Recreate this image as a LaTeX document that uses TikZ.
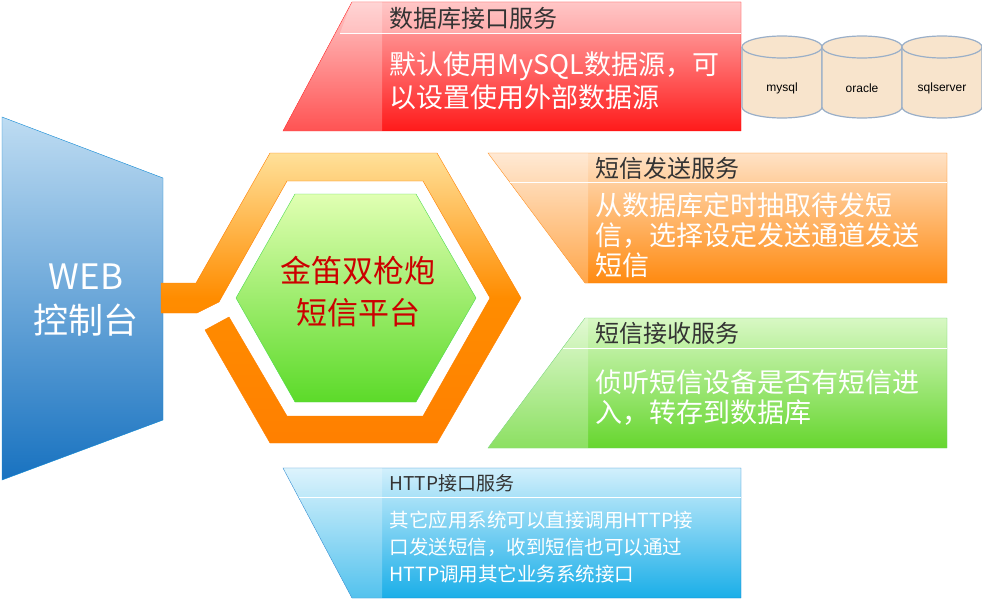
\documentclass[tikz,border=0pt]{standalone}
\usepackage{fontspec}
\setmainfont{Liberation Sans}
\newfontfamily\cjk{Noto Sans CJK SC}
\definecolor{redtop}{HTML}{FFB4B4}
\definecolor{redbot}{HTML}{FF1A1A}
\definecolor{orgtop}{HTML}{FFE2C6}
\definecolor{orgbot}{HTML}{FF8A10}
\definecolor{grntop}{HTML}{D8F8C4}
\definecolor{grnbot}{HTML}{66D62E}
\definecolor{blutop}{HTML}{D2F0FC}
\definecolor{blubot}{HTML}{1AAEE8}
\definecolor{webtop}{HTML}{BEDCF2}
\definecolor{webbot}{HTML}{1872C0}
\definecolor{txtgray}{HTML}{333333}
\definecolor{cylfill}{HTML}{F8E4CC}
\definecolor{cyledge}{HTML}{9AAFC8}
\tikzset{
  title/.style={anchor=west,text=txtgray,font=\cjk\fontsize{24}{26}\selectfont},
  body/.style={anchor=north west,text=white,align=left,font=\cjk\fontsize{27}{33}\selectfont},
  cylbody/.style={draw=cyledge,fill=cylfill,line width=1.2pt},
  dblabel/.style={font=\fontsize{12}{14}\selectfont},
  glass/.style={fill=white,fill opacity=0.25,draw=none}
}
\begin{document}
\begin{tikzpicture}[x=1pt,y=-1pt]
  \useasboundingbox (0,0) rectangle (982,599);
  % web console
  \shade[top color=webtop,bottom color=webbot,draw=cyan!70!blue] (2,117) -- (163,178) -- (163,420) -- (2,480) -- cycle;
  \node[text=white,align=center,font=\cjk\fontsize{35}{44}\selectfont] (web) at (86,300) {WEB\\控制台};
  % orange ring
  \shade[top color=yellow!40!orange!40,bottom color=orange,middle color=orange!90!yellow,draw=orange]
    (270,153) -- (437,153) -- (521,298) -- (437,443) -- (270,443) -- (205,330) -- (229,317)
    -- (287,416) -- (423,416) -- (490,298) -- (423,181) -- (287,181) -- (219,302) -- (197,313)
    -- (161,313) -- (161,283) -- (196,283) -- cycle;
  % core hexagon
  \shade[top color=green!20!lime!30,bottom color=grnbot!90!green,draw=green!80!black!70]
    (295,194) -- (416,194) -- (476,298) -- (416,402) -- (295,402) -- (236,298) -- cycle;
  \node[text=red!80!black,align=center,font=\cjk\fontsize{31}{42}\selectfont] (core) at (358,292) {金笛双枪炮\\短信平台};
  % database service
  \shade[top color=redtop,bottom color=redbot,draw=red] (352,2) -- (741,2) -- (741,131) -- (283,131) -- cycle;
  \fill[glass] (352,2) -- (382,2) -- (382,131) -- (283,131) -- cycle;
  \fill[glass] (352,2) -- (741,2) -- (741,33) -- (340,33) -- cycle;
  \draw[white] (340,33) -- (741,33);
  \node[title] (dbtitle) at (386,18) {数据库接口服务};
  \node[body] (dbtext) at (386,48) {默认使用MySQL数据源，可\\以设置使用外部数据源};
  % databases
  \foreach \cx/\db in {782/mysql,862/oracle,942/sqlserver}{
    \draw[cylbody] (\cx-40,47) -- (\cx-40,107) arc[start angle=180,end angle=360,x radius=40,y radius=-11]
      -- (\cx+40,47) arc[start angle=0,end angle=180,x radius=40,y radius=-11] -- cycle;
    \draw[cylbody] (\cx-40,47) arc[start angle=180,end angle=360,x radius=40,y radius=-11];
    \node[dblabel] (\db) at (\cx,88) {\db};
  }
  % send service
  \shade[top color=orgtop,bottom color=orgbot,draw=orange] (488,153) -- (947,153) -- (947,283) -- (585,283) -- cycle;
  \fill[glass] (488,153) -- (588,153) -- (588,283) -- (585,283) -- cycle;
  \draw[white] (510,182) -- (947,182);
  \node[title] (sendtitle) at (592,168) {短信发送服务};
  \node[body,font=\cjk\fontsize{27}{30}\selectfont] (sendtext) at (592,189) {从数据库定时抽取待发短\\信，选择设定发送通道发送\\短信};
  % receive service
  \shade[top color=grntop,bottom color=grnbot,draw=green!70!black!60] (585,318) -- (947,318) -- (947,448) -- (488,448) -- cycle;
  \fill[glass] (585,318) -- (588,318) -- (588,448) -- (488,448) -- cycle;
  \draw[white] (563,348) -- (947,348);
  \node[title] (recvtitle) at (592,333) {短信接收服务};
  \node[body,font=\cjk\fontsize{27}{30}\selectfont] (recvtext) at (592,366) {侦听短信设备是否有短信进\\入，转存到数据库};
  % http service
  \shade[top color=blutop,bottom color=blubot,draw=cyan!60!blue] (283,468) -- (741,468) -- (741,598) -- (352,598) -- cycle;
  \fill[glass] (283,468) -- (382,468) -- (382,598) -- (352,598) -- cycle;
  \draw[white] (299,497) -- (741,497);
  \node[title,font=\cjk\fontsize{19}{21}\selectfont] (httptitle) at (386,483) {HTTP接口服务};
  \node[body,font=\cjk\fontsize{19.5}{27}\selectfont] (httptext) at (386,507) {其它应用系统可以直接调用HTTP接\\口发送短信，收到短信也可以通过\\HTTP调用其它业务系统接口};
\end{tikzpicture}
\end{document}
